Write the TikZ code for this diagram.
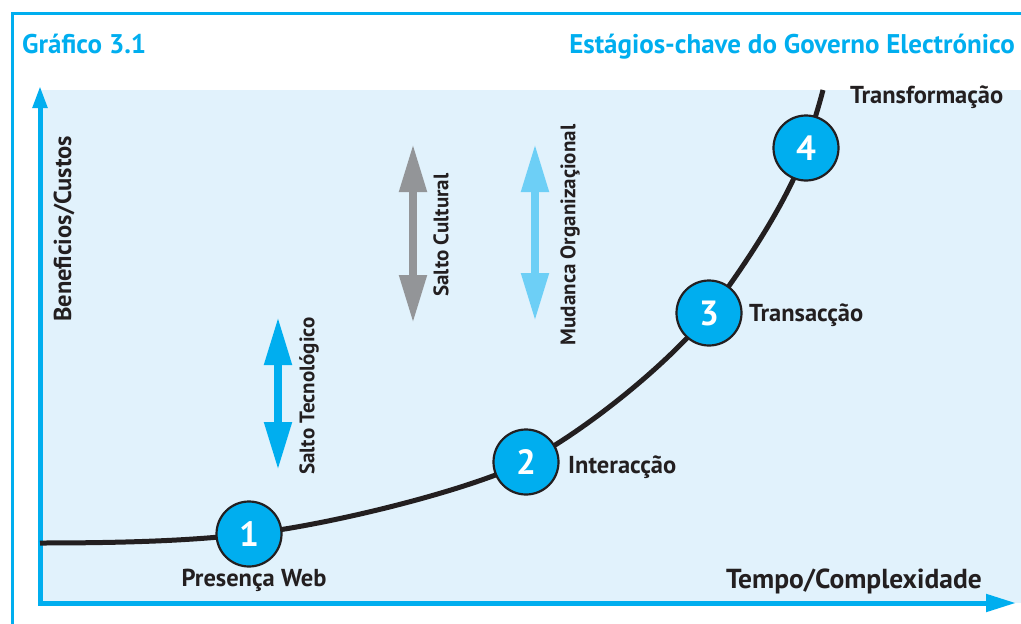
\documentclass[tikz,border=0pt]{standalone}
\usepackage{fontspec}
\setmainfont{PT Sans}
\usetikzlibrary{arrows.meta}
\definecolor{cyanA}{HTML}{00AEEF}
\definecolor{panelbg}{HTML}{E1F2FC}
\definecolor{grayA}{HTML}{939598}
\definecolor{lightA}{HTML}{6DCFF6}
\definecolor{darkA}{HTML}{231F20}
\tikzset{
  stage/.style={circle, minimum size=65pt, inner sep=0pt, fill=cyanA, draw=darkA, line width=2.2pt, text=white, font=\bfseries\fontsize{35}{35}\selectfont},
  lbl/.style={text=darkA, font=\bfseries\fontsize{24.5}{24.5}\selectfont, inner sep=0pt},
  biglbl/.style={text=darkA, font=\bfseries\fontsize{27.5}{27.5}\selectfont, inner sep=0pt},
  rlbl/.style={text=darkA, font=\bfseries\fontsize{21}{21}\selectfont, inner sep=0pt, rotate=90},
  hdr/.style={text=cyanA, font=\bfseries\fontsize{27}{27}\selectfont, inner sep=0pt},
  dblarrow/.style={line width=8pt, {Triangle[length=48pt,width=26pt]}-{Triangle[length=48pt,width=26pt]}},
  axisline/.style={cyanA, line width=5pt}
}
\begin{document}
\begin{tikzpicture}[x=1pt,y=-1pt]
\useasboundingbox (0,0) rectangle (1021,624);
\fill[white] (0,0) rectangle (1021,624);
% outer frame
\draw[cyanA, line width=3pt] (12,626) -- (12,13) -- (1023,13);
% panel
\fill[panelbg] (40,90) rectangle (1023,603);
% header
\node[hdr, anchor=base west] (h1) at (22,53) {Gráfico 3.1};
\node[hdr, anchor=base east] (h2) at (1015,53) {Estágios-chave do Governo Electrónico};
% axes
\coordinate (o) at (40,603);
\coordinate (ytop) at (40,86);
\coordinate (xend) at (1016,603);
\draw[axisline, -{Triangle[length=22pt,width=14pt]}] (40,605.5) -- (ytop);
\draw[axisline, -{Triangle[length=30pt,width=17pt]}] (o) -- (xend);
% curve
\coordinate (s0) at (40,543);
\coordinate (p1) at (249,534);
\coordinate (p2) at (526,462);
\coordinate (p3) at (709,313);
\coordinate (p4) at (806,148);
\coordinate (se) at (823,90);
\draw[darkA, line width=5pt]
  (s0) .. controls (150,543) and (205,539) .. (p1)
       .. controls (330,525) and (470,490) .. (p2)
       .. controls (590,428) and (672,360) .. (p3)
       .. controls (742,270) and (790,198) .. (p4)
       .. controls (815,118) and (820,102) .. (se);
% stages
\node[stage] (n1) at (p1) {1};
\node[stage] (n2) at (p2) {2};
\node[stage] (n3) at (p3) {3};
\node[stage] (n4) at (p4) {4};
% labels
\node[lbl, anchor=center] (l1) at (254,580) {Presença Web};
\node[lbl, anchor=west] (l2) at (568,467) {Interacção};
\node[lbl, anchor=west] (l3) at (749,315) {Transacção};
\node[lbl, anchor=west] (l4) at (850,97) {Transformação};
\node[biglbl, anchor=east] (lx) at (982,581) {Tempo/Complexidade};
\node[lbl, rotate=90] (ly) at (64,229) {Beneficios/Custos};
% double arrows
\coordinate (t1) at (278,317);
\coordinate (t2) at (278,470);
\draw[dblarrow, cyanA] (t1) -- (t2);
\node[rlbl] (tl) at (309,396) {Salto Tecnológico};
\coordinate (c1) at (413,144);
\coordinate (c2) at (413,323);
\draw[dblarrow, grayA] (c1) -- (c2);
\node[rlbl] (cl) at (441,235) {Salto Cultural};
\coordinate (m1) at (535,144);
\coordinate (m2) at (535,321);
\draw[dblarrow, lightA] (m1) -- (m2);
\node[rlbl] (ml) at (570,235) {Mudanca Organizaçional};
\end{tikzpicture}
\end{document}
